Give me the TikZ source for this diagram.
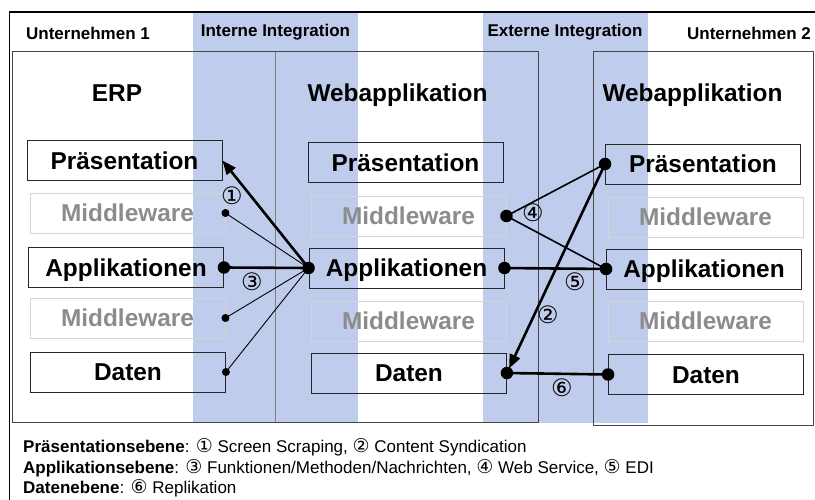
\documentclass[tikz,border=0pt]{standalone}
\usepackage{fontspec}
\setmainfont{Liberation Sans}
\newfontfamily\circfont{DejaVu Sans}
\usetikzlibrary{arrows.meta}
\definecolor{bandblue}{RGB}{192,204,236}
\definecolor{mwgray}{RGB}{140,140,140}
\definecolor{mwline}{RGB}{212,212,212}
\definecolor{framegray}{RGB}{70,70,70}
\newcommand\circnum[1]{{\circfont\fontsize{19}{19}\selectfont #1}}
\begin{document}
\begin{tikzpicture}[x=1pt,y=-1pt,
  layerbox/.style={draw=black!85, line width=0.9pt, minimum width=195pt, minimum height=40pt, inner sep=0pt, text height=17.5pt, text depth=0pt, font=\fontsize{24.4}{29}\selectfont\bfseries},
  mwbox/.style={layerbox, draw=mwline, text=mwgray},
  colhead/.style={font=\fontsize{24.4}{29}\selectfont\bfseries, inner sep=0pt, text height=17.5pt, text depth=0pt},
  toplabel/.style={font=\fontsize{17}{20}\selectfont\bfseries, inner sep=0pt, text height=12.2pt, text depth=0pt},
  num/.style={font=\circfont\fontsize{24}{24}\selectfont, inner sep=0pt},
  bigdot/.style={circle, fill=black, minimum size=12.5pt, inner sep=0pt},
  smalldot/.style={circle, fill=black, minimum size=8pt, inner sep=0pt},
  thickline/.style={line width=2.6pt},
  medline/.style={line width=1.6pt},
  thinline/.style={line width=0.9pt},
  arrowtip/.style={-{Triangle[length=14pt,width=11pt]}},
  legend/.style={font=\fontsize{17}{20}\selectfont, anchor=base west, inner sep=0pt}
]
\useasboundingbox (0,0) rectangle (815,500);
% integration bands
\fill[bandblue] (193,12) rectangle (358,423);
\fill[bandblue] (483,12) rectangle (648,423);
% frames
\draw[line width=1.2pt] (9.5,500) -- (9.5,12) -- (815,12);
\draw[framegray, line width=1pt] (12,52) rectangle (538,422);
\draw[framegray, line width=1pt] (593,52) rectangle (813,425);
\draw[gray, line width=0.8pt] (275,52) -- (275,422);
% top labels
\node[toplabel] (u1) at (88,33) {Unternehmen 1};
\node[toplabel] (ii) at (275.5,30.5) {Interne Integration};
\node[toplabel] (ei) at (565,30.5) {Externe Integration};
\node[toplabel] (u2) at (749,33.5) {Unternehmen 2};
% column headings
\node[colhead] (herp) at (117,93) {ERP};
\node[colhead] (hw1) at (397.5,93) {Webapplikation};
\node[colhead] (hw2) at (692.5,93) {Webapplikation};
% ERP column
\node[layerbox] (ep) at (124.5,160.5) {Präsentation};
\node[mwbox] (em1) at (127.5,213) {Middleware};
\node[layerbox] (ea) at (126,267.5) {Applikationen};
\node[mwbox] (em2) at (127.5,318) {Middleware};
\node[layerbox] (ed) at (128,372) {Daten};
% Webapplikation (Unternehmen 1)
\node[layerbox] (wp) at (405.5,162.5) {Präsentation};
\node[mwbox] (wm1) at (408.5,216) {Middleware};
\node[layerbox] (wa) at (406.5,268) {Applikationen};
\node[mwbox] (wm2) at (408.5,321) {Middleware};
\node[layerbox] (wd) at (409,373) {Daten};
% Webapplikation (Unternehmen 2)
\node[layerbox] (zp) at (703,164) {Präsentation};
\node[mwbox] (zm1) at (705.5,217) {Middleware};
\node[layerbox] (za) at (704,269) {Applikationen};
\node[mwbox] (zm2) at (705.5,321) {Middleware};
\node[layerbox] (zd) at (706,374.5) {Daten};
% connectors
\draw[thinline] (wa.west) -- (em1.east);
\draw[thinline] (wa.west) -- (em2.east);
\draw[thinline] (wa.west) -- (ed.east);
\draw[thickline, arrowtip] (wa.west) -- (ep.east);
\draw[thickline] (ea.east) -- (wa.west);
\draw[medline] (wm1.east) -- (zp.west);
\draw[medline] (wm1.east) -- (za.west);
\draw[thickline] (wa.east) -- (za.west);
\draw[thickline, arrowtip, shorten >=5pt] (zp.west) -- (wd.east);
\draw[thickline] (wd.east) -- (zd.west);
% dots
\node[bigdot] (dea) at (ea.east) {};
\node[bigdot] (dwa) at (wa.west) {};
\node[bigdot] (dwa2) at (wa.east) {};
\node[bigdot] (dza) at (za.west) {};
\node[bigdot] (dzp) at (zp.west) {};
\node[bigdot] (dwm) at (wm1.east) {};
\node[bigdot] (dwd) at (wd.east) {};
\node[bigdot] (dzd) at (zd.west) {};
\node[smalldot] (dem1) at (em1.east) {};
\node[smalldot] (dem2) at (em2.east) {};
\node[smalldot] (ded) at (ed.east) {};
% number labels
\node[num] (n1) at (232,196) {①};
\node[num] (n3) at (252,282) {③};
\node[num] (n4) at (533,213) {④};
\node[num] (n5) at (575,282) {⑤};
\node[num] (n2) at (548,315) {②};
\node[num] (n6) at (562,388) {⑥};
% legend
\node[legend] (l1) at (23,452) {\textbf{Präsentationsebene}: \circnum{①} Screen Scraping, \circnum{②} Content Syndication};
\node[legend] (l2) at (23,473) {\textbf{Applikationsebene}: \circnum{③} Funktionen/Methoden/Nachrichten, \circnum{④} Web Service, \circnum{⑤} EDI};
\node[legend] (l3) at (23,493) {\textbf{Datenebene}: \circnum{⑥} Replikation};
\end{tikzpicture}
\end{document}
